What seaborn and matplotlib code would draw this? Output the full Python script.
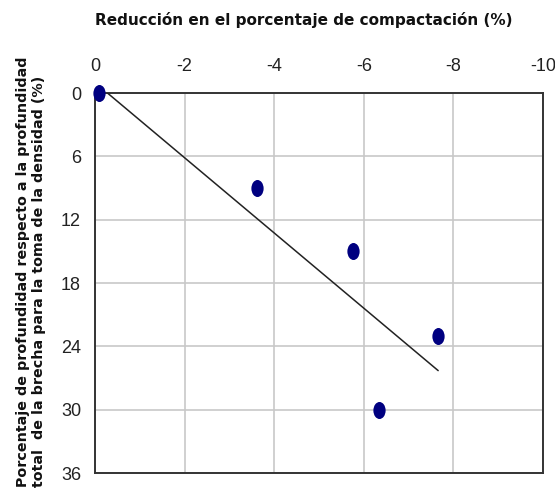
import numpy as np
import pandas as pd
import matplotlib
matplotlib.use("Agg")
import matplotlib.pyplot as plt
import seaborn as sns
from matplotlib.path import Path
from matplotlib.transforms import Affine2D

# ---- data ----
reduccion = [-0.09, -3.61, -5.77, -7.66, -6.35]      # x: reducción en compactación (%)
profundidad = [0.0, 9.0, 15.0, 23.0, 30.0]          # y: % de profundidad
trend_x = [-0.25, -7.66]
trend_y = [-0.1, 26.3]
x_ticks = [0, -2, -4, -6, -8, -10]
y_ticks = [0, 6, 12, 18, 24, 30, 36]

title = "Reducción en el porcentaje de compactación (%)"
ylabel = ("Porcentaje de profundidad respecto a la profundidad\n"
          "total  de la brecha para la toma de la densidad (%)")

sns.set_style("white")
plt.rcParams['font.family'] = ['Liberation Sans', 'DejaVu Sans']

df = pd.DataFrame({"x": reduccion, "y": profundidad})

fig = plt.figure(figsize=(5.55, 4.92), dpi=100)
ax = fig.add_axes([95/555, 1-473/492, (543-95)/555, (473-93)/492])

ax.plot(trend_x, trend_y, color="#222222", lw=1.1, zorder=3)

ell = Path.unit_circle().transformed(Affine2D().scale(0.72, 1.0))
sns.scatterplot(data=df, x="x", y="y", ax=ax, marker=ell, s=150,
                color="#000080", edgecolor="#000080", linewidth=0,
                zorder=5, clip_on=False, legend=False)

ax.set_xlim(0, -10)
ax.set_ylim(36, 0)
ax.set_xticks(x_ticks)
ax.set_xticklabels([str(v) for v in x_ticks])
ax.set_yticks(y_ticks)
ax.set_yticklabels([str(v) for v in y_ticks])
ax.xaxis.tick_top()
ax.tick_params(axis='both', length=0, labelsize=13, colors="#222222")
ax.tick_params(axis='x', pad=13)
ax.tick_params(axis='y', pad=10)
ax.grid(True, color="#c8c8c8", lw=1.2)
ax.set_axisbelow(True)
for s in ax.spines.values():
    s.set_visible(True)
    s.set_color("#333333")
    s.set_linewidth(1.4)
ax.set_xlabel("")
ax.set_ylabel("")

fig.text(304/555, 1-20/492, title, ha='center', va='center',
         fontsize=11, fontweight='bold', family=['DejaVu Sans'], color="#111111")
fig.text(31/555, 1-487/492, ylabel, rotation=90, ha='center', va='bottom',
         multialignment='left', fontsize=10.3, fontweight='bold',
         family=['DejaVu Sans'], color="#111111", linespacing=1.2)

fig.savefig("out.png", dpi=100)
